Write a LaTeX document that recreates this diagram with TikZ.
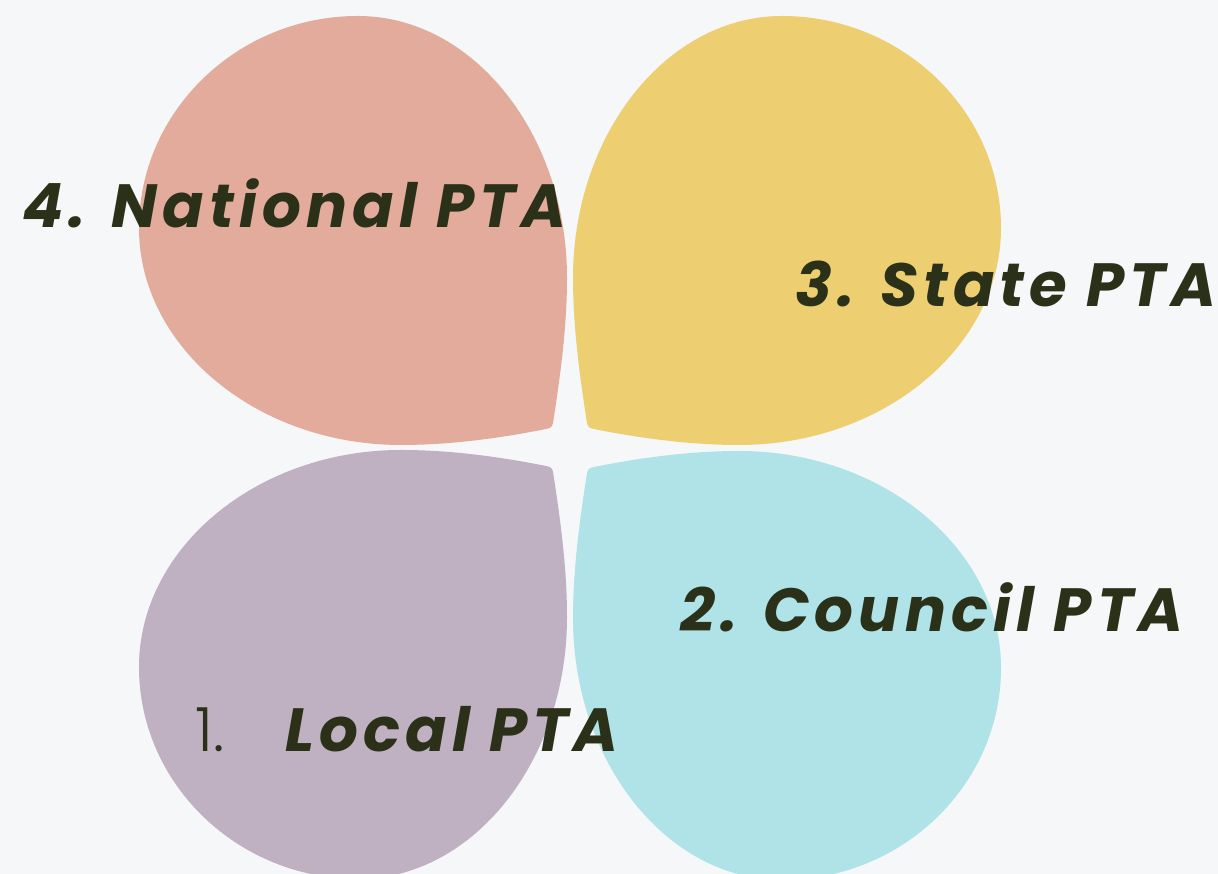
\documentclass[tikz,border=0pt]{standalone}
\usepackage{fontspec}
\newfontfamily\popbi{Poppins}[LetterSpace=8.5]
\newfontfamily\poplight{Poppins Light}
\definecolor{bgc}{HTML}{F5F7F9}
\definecolor{pinkc}{HTML}{E3AB9C}
\definecolor{yellowc}{HTML}{EDCF72}
\definecolor{purplec}{HTML}{BFB0C2}
\definecolor{cyanc}{HTML}{AFE3E8}
\definecolor{txtc}{HTML}{2B3118}
\tikzset{
  lbl/.style={anchor=base west, inner sep=0pt, text=txtc, font=\fontsize{61}{66}\selectfont\popbi\bfseries\itshape},
  numlbl/.style={anchor=base west, inner sep=0pt, text=txtc, font=\fontsize{61}{66}\selectfont\poplight},
}
\newcommand{\petalpath}{%
  (2,5) .. controls (9,50) and (16,100) .. (16,150)
  .. controls (16,294) and (-78,412) .. (-193,412)
  .. controls (-313,412) and (-412,317) .. (-412,200)
  .. controls (-412,81) and (-294,-17) .. (-150,-17)
  .. controls (-100,-17) and (-50,-10) .. (-5,-1)
  .. controls (0,0) and (1,1) .. cycle}
\begin{document}
\begin{tikzpicture}[x=1pt,y=1pt]
\fill[bgc] (0,0) rectangle (1218,874);
\useasboundingbox (0,0) rectangle (1218,874);
% petals
\begin{scope}[shift={(551,446)}]
  \fill[pinkc] \petalpath;
\end{scope}
\begin{scope}[shift={(589,446)}, xscale=-1]
  \fill[yellowc] \petalpath;
\end{scope}
\begin{scope}[shift={(551,407)}, yscale=-1]
  \fill[purplec] \petalpath;
\end{scope}
\begin{scope}[shift={(589,406)}, xscale=-1, yscale=-1]
  \fill[cyanc] \petalpath;
\end{scope}
% labels
\node[lbl] (national) at (22,646) {4. National PTA};
\node[lbl] (state) at (795,567) {3. State PTA};
\node[lbl] (council) at (680,242) {2. Council PTA};
\node[numlbl] (one) at (195,122) {1.};
\node[lbl] (local) at (285,122) {Local PTA};
\end{tikzpicture}
\end{document}
